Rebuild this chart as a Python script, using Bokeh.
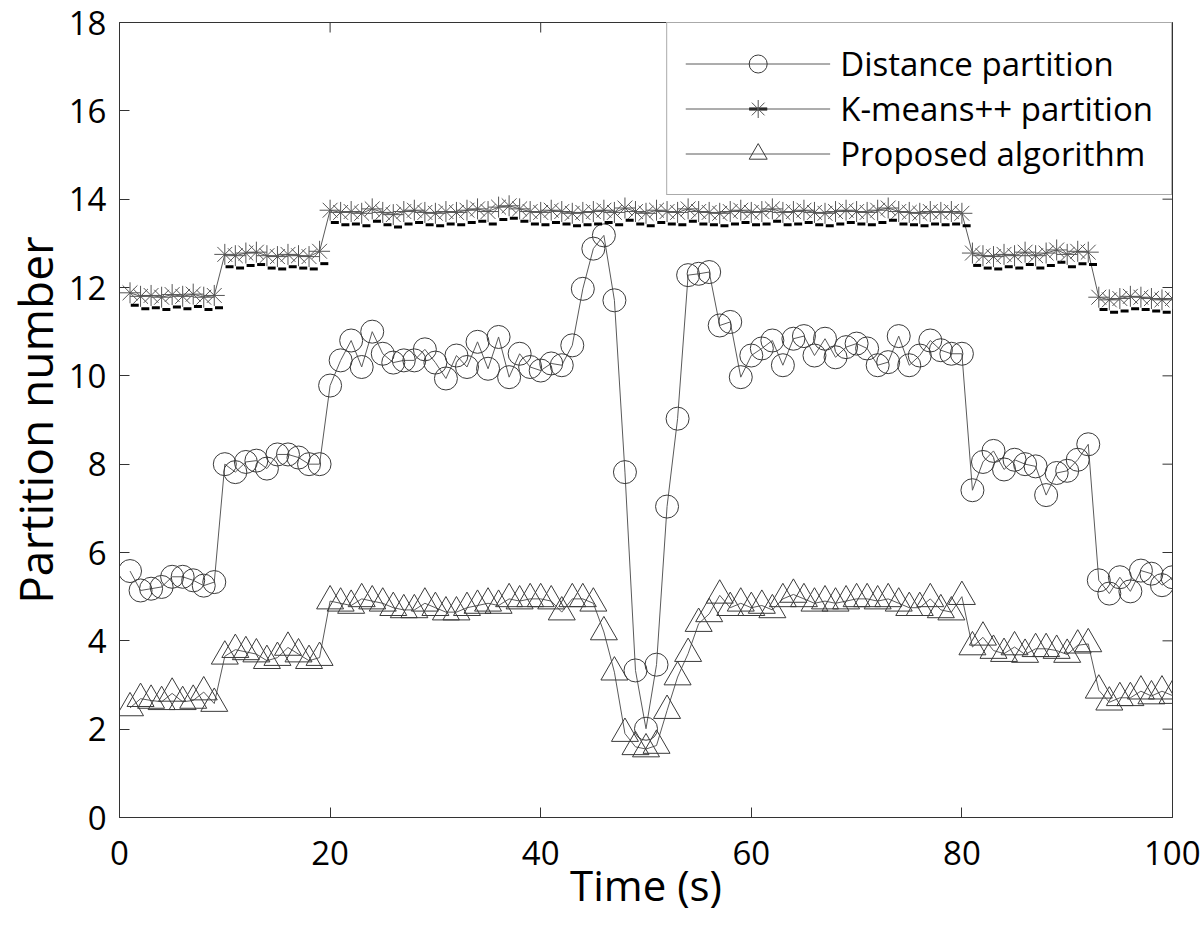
import math
from bokeh.plotting import figure
from bokeh.models import Range1d, FixedTicker, Legend, LegendItem, ColumnDataSource
from bokeh.transform import dodge
from bokeh.embed import file_html
from bokeh.resources import INLINE

# ---------------- data ----------------
time_s = list(range(1, 101))

distance_partition = [
    5.58, 5.14, 5.18, 5.22, 5.45, 5.45, 5.37, 5.25, 5.33,
    8.0, 7.82, 8.05, 8.08, 7.9, 8.22, 8.22, 8.15, 8.0, 8.0,
    9.78, 10.35, 10.8, 10.2, 11.0, 10.5, 10.3, 10.35, 10.35,
    10.6, 10.3, 9.94, 10.46, 10.2, 10.77, 10.16, 10.88, 9.97, 10.5,
    10.2, 10.12, 10.28, 10.24, 10.69, 11.97, 12.88, 13.18, 11.71, 7.82,
    3.33, 2.01, 3.46, 7.04, 9.03, 12.28, 12.31, 12.35, 11.14, 11.22, 9.97, 10.46, 10.62,
    10.8, 10.24, 10.84, 10.9, 10.46, 10.84, 10.42, 10.65, 10.73, 10.62,
    10.24, 10.31, 10.9, 10.24, 10.46, 10.8, 10.58, 10.5, 10.5,
    7.41, 8.05, 8.3, 7.88, 8.1, 8.0, 7.95, 7.3, 7.8, 7.85, 8.1, 8.45,
    5.37, 5.07, 5.44, 5.12, 5.59, 5.52, 5.26, 5.44,
]

kmeans_partition = [
    11.88, 11.8, 11.82, 11.78, 11.84, 11.8, 11.85, 11.78, 11.82,
    12.75, 12.72, 12.78, 12.8, 12.72, 12.7, 12.75, 12.72, 12.7, 12.82,
    13.75, 13.7, 13.72, 13.68, 13.78, 13.7, 13.65, 13.72, 13.75, 13.7,
    13.68, 13.72, 13.7, 13.75, 13.78, 13.72, 13.82, 13.85, 13.78, 13.72,
    13.7, 13.75, 13.72, 13.68, 13.7, 13.72, 13.75, 13.7, 13.8, 13.72,
    13.68, 13.75, 13.72, 13.7, 13.78, 13.72, 13.7, 13.68, 13.72, 13.75,
    13.7, 13.72, 13.78, 13.7, 13.72, 13.75, 13.7, 13.68, 13.72, 13.75,
    13.72, 13.7, 13.75, 13.8, 13.72, 13.7, 13.68, 13.72, 13.7, 13.72,
    13.68,
    12.78, 12.72, 12.7, 12.75, 12.72, 12.8, 12.72, 12.78, 12.85, 12.75, 12.82, 12.8,
    11.78, 11.72, 11.75, 11.8, 11.78, 11.75, 11.72, 11.75,
]

proposed_algorithm = [
    2.48, 2.69, 2.65, 2.62, 2.81, 2.62, 2.65, 2.84, 2.58,
    3.65, 3.8, 3.75, 3.7, 3.55, 3.62, 3.85, 3.7, 3.55, 3.62,
    4.9, 4.85, 4.8, 4.95, 4.9, 4.85, 4.75, 4.7, 4.7, 4.85, 4.75, 4.65, 4.65,
    4.75, 4.8, 4.85, 4.8, 4.95, 4.9, 4.95, 4.95, 4.9, 4.65, 4.95, 4.95, 4.85,
    4.2, 3.29, 1.9, 1.6, 1.55, 1.63, 2.42, 3.18, 3.71, 4.39, 4.61,
    5.03, 4.75, 4.85, 4.75, 4.8, 4.7, 4.95, 5.05, 4.95, 4.85, 4.9, 4.85,
    4.9, 4.95, 4.95, 4.9, 4.95, 4.85, 4.75, 4.75, 4.95, 4.7, 4.65, 5.0,
    3.86, 4.08, 3.78, 3.71, 3.86, 3.69, 3.82, 3.82, 3.78, 3.69, 3.9, 3.93,
    2.88, 2.61, 2.71, 2.71, 2.86, 2.75, 2.86, 2.76,
]

series_labels = ["Distance partition", "K-means++ partition", "Proposed algorithm"]
x_ticks = [0, 20, 40, 60, 80, 100]
y_ticks = [0, 2, 4, 6, 8, 10, 12, 14, 16, 18]
x_label = "Time (s)"
y_label = "Partition number"

# ---------------- figure ----------------
FONT = "Open Sans"
LINE_C = "#5a5a5a"
MARK_C = "#3a3a3a"
AX_C = "#333333"

x_min, x_max = x_ticks[0], x_ticks[-1]
y_min, y_max = y_ticks[0], y_ticks[-1]

p = figure(width=1200, height=930, output_backend="svg", toolbar_location=None,
           x_range=Range1d(x_min, x_max), y_range=Range1d(y_min, y_max),
           min_border_left=117, min_border_right=28, min_border_top=22, min_border_bottom=113)
p.grid.visible = False
p.outline_line_color = AX_C
p.outline_line_width = 1

src = ColumnDataSource(dict(t=time_s, D=distance_partition, K=kmeans_partition, P=proposed_algorithm))

lD = p.line("t", "D", source=src, line_color=LINE_C, line_width=1)
mD = p.scatter("t", "D", source=src, marker="circle", size=23, fill_color=None,
               line_color=MARK_C, line_width=1)

lK = p.line("t", "K", source=src, line_color=LINE_C, line_width=1)
aK = p.scatter(x=dodge("t", 0.45, range=p.x_range), y=dodge("K", -0.28, range=p.y_range), source=src,
               marker="dash", size=8, line_color="black", line_width=3)
mK = p.scatter("t", "K", source=src, marker="asterisk", size=21, line_color="#555555", line_width=1)

lP = p.line("t", "P", source=src, line_color=LINE_C, line_width=1)
mP = p.scatter("t", "P", source=src, marker="triangle", size=27, fill_color=None,
               line_color=MARK_C, line_width=1)

# inward ticks on the top and right edges of the box (clipped to the frame)
p.scatter(x=x_ticks, y=[y_max] * len(x_ticks), marker="dash", angle=math.pi / 2, size=20,
          line_color=AX_C, line_width=1)
p.scatter(x=[x_max] * len(y_ticks), y=y_ticks, marker="dash", size=20,
          line_color=AX_C, line_width=1)

# axes
for ax in (p.xaxis[0], p.yaxis[0]):
    ax.major_tick_in = 10
    ax.major_tick_out = 0
    ax.minor_tick_in = 0
    ax.minor_tick_out = 0
    ax.axis_line_color = AX_C
    ax.major_tick_line_color = AX_C
    ax.major_label_text_font = FONT
    ax.major_label_text_font_size = "33px"
    ax.major_label_text_color = "black"
    ax.axis_label_text_font = FONT
    ax.axis_label_text_font_style = "normal"
    ax.axis_label_text_color = "black"

p.xaxis[0].ticker = FixedTicker(ticks=x_ticks)
p.yaxis[0].ticker = FixedTicker(ticks=y_ticks)
p.xaxis[0].axis_label = x_label
p.yaxis[0].axis_label = y_label
p.xaxis[0].axis_label_text_font_size = "42px"
p.yaxis[0].axis_label_text_font_size = "46px"
p.xaxis[0].major_label_standoff = 23
p.xaxis[0].axis_label_standoff = -12
p.yaxis[0].major_label_standoff = 13
p.yaxis[0].axis_label_standoff = 0

legend = Legend(items=[
    LegendItem(label=series_labels[0], renderers=[lD, mD]),
    LegendItem(label=series_labels[1], renderers=[lK, aK, mK]),
    LegendItem(label=series_labels[2], renderers=[lP, mP]),
], location="top_right", margin=0, padding=18, spacing=0,
    glyph_width=145, glyph_height=45, label_height=45, label_standoff=10,
    label_text_font=FONT, label_text_font_size="33px", label_text_color="black",
    border_line_color="#555555", border_line_width=1, background_fill_color="white",
    background_fill_alpha=1)
p.add_layout(legend)

open("out.html", "w").write(file_html(p, INLINE))
